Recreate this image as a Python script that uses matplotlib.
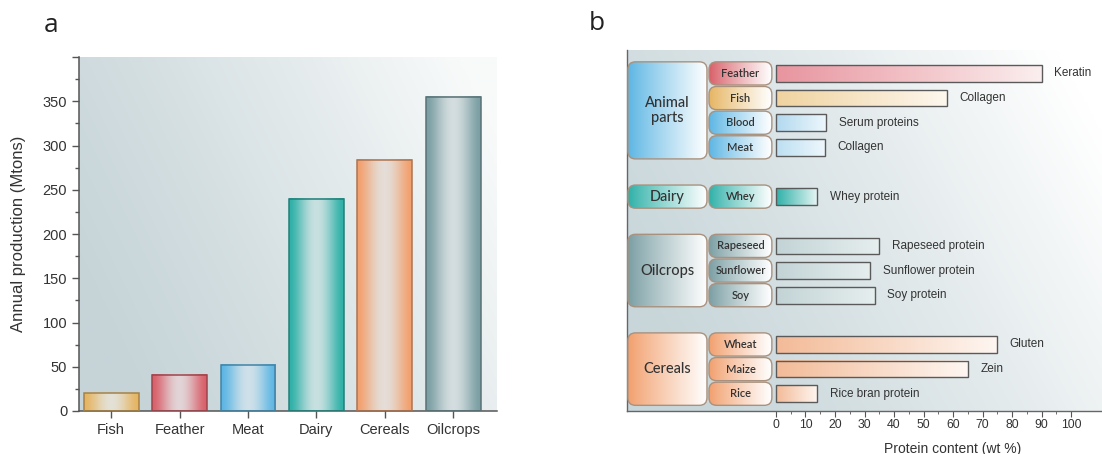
import numpy as np
import matplotlib
matplotlib.use("Agg")
import matplotlib.pyplot as plt
from matplotlib.patches import FancyBboxPatch
from matplotlib.colors import to_rgb

# ---------------- data ----------------
categories_a = ['Fish', 'Feather', 'Meat', 'Dairy', 'Cereals', 'Oilcrops']
production = [20, 41, 52, 240, 284, 355]

groups_b = ['Animal\nparts', 'Dairy', 'Oilcrops', 'Cereals']
sources = ['Feather', 'Fish', 'Blood', 'Meat', 'Whey', 'Rapeseed', 'Sunflower',
           'Soy', 'Wheat', 'Maize', 'Rice']
source_group = [0, 0, 0, 0, 1, 2, 2, 2, 3, 3, 3]
protein_content = [90, 58, 17, 16.5, 14, 35, 32, 33.5, 75, 65, 14]
protein_names = ['Keratin', 'Collagen', 'Serum proteins', 'Collagen', 'Whey protein',
                 'Rapeseed protein', 'Sunflower protein', 'Soy protein', 'Gluten',
                 'Zein', 'Rice bran protein']

# ---------------- styles ----------------
col_a = ['#e6b562', '#d9606a', '#5db6e4', '#2fb1a8', '#f2a06e', '#7b9fa4']
group_colors = ['#5db6e4', '#2fb1a8', '#7b9fa4', '#f2a06e']
sub_colors = ['#d9606a', '#e6b562', '#5db6e4', '#5db6e4', '#2fb1a8',
              '#7b9fa4', '#7b9fa4', '#7b9fa4', '#f2a06e', '#f2a06e', '#f2a06e']
bar_b_start = ['#e8959f', '#f0d3a0', '#b2d9ef', '#bcdff2', '#2fb1a8',
               '#c3d4d6', '#c3d4d6', '#c3d4d6', '#f3bb98', '#f3bb98', '#f3bb98']
bar_b_end = ['#fbeeee', '#fdf7ee', '#eef7fc', '#eef7fc', '#e8f6f5',
             '#e6eeee', '#e6eeee', '#e6eeee', '#fef6f1', '#fef6f1', '#fef6f1']
box_edge = '#a8927f'
text_col = '#333333'

plt.rcParams['font.family'] = ['Liberation Sans', 'DejaVu Sans']

fig = plt.figure(figsize=(11.02, 4.54), dpi=100)


def lerp(c1, c2, t):
    c1 = np.array(to_rgb(c1)); c2 = np.array(to_rgb(c2))
    t = np.asarray(t)[..., None]
    return c1 * (1 - t) + c2 * t


def background(ax, dark, light):
    nx, ny = 200, 100
    x = np.linspace(0, 1, nx)[None, :]
    y = np.linspace(1, 0, ny)[:, None]
    t = np.clip(0.85 * x + 0.35 * y - 0.12, 0, 1) ** 1.2
    img = lerp(dark, light, t)
    ax.imshow(img, extent=(0, 1, 0, 1), transform=ax.transAxes, aspect='auto',
              zorder=0, interpolation='bilinear')


def hgrad(ax, x0, x1, y0, y1, colors, clip=None, zorder=2):
    img = np.array([colors, colors])
    im = ax.imshow(img, extent=(x0, x1, y0, y1), aspect='auto', zorder=zorder,
                   interpolation='bicubic', origin='lower')
    if clip is not None:
        im.set_clip_path(clip)
    return im


def darker(c, f=0.7):
    return tuple(np.array(to_rgb(c)) * f)


# ---------------- panel a ----------------
axa = fig.add_axes([79 / 1102, 43 / 454, (497 - 79) / 1102, (411 - 57) / 454])
background(axa, '#c6d4d8', '#f8fafa')
xa = np.arange(len(categories_a))
w = 0.8
bars = axa.bar(xa, production, width=w, facecolor='none', zorder=3, linewidth=1.1)
n = 64
s = np.linspace(0, 1, n)
prof = (1 - np.cos(2 * np.pi * s)) / 2
prof = prof ** 0.8 * 0.85
for b, c in zip(bars, col_a):
    b.set_edgecolor(darker(c, 0.72))
    cols = lerp(c, '#e3e8ea', prof)
    hgrad(axa, b.get_x(), b.get_x() + b.get_width(), 0, b.get_height(), cols, zorder=2)

axa.set_xlim(-0.47, 5.64)
axa.set_ylim(0, 400)
axa.set_xticks(xa)
axa.set_xticklabels(categories_a, fontsize=10.5, color=text_col)
axa.set_yticks(np.arange(0, 401, 50))
axa.set_yticklabels([str(v) if v < 400 else '' for v in range(0, 401, 50)],
                    fontsize=10.5, color=text_col)
axa.set_yticks(np.arange(25, 400, 50), minor=True)
axa.tick_params(axis='both', which='major', direction='out', length=5, color='#555555', width=1)
axa.tick_params(axis='y', which='minor', direction='out', length=3, color='#555555', width=1)
axa.set_ylabel('Annual production (Mtons)', fontsize=12, color=text_col, labelpad=12)
for sp in ['top', 'right']:
    axa.spines[sp].set_visible(False)
for sp in ['left', 'bottom']:
    axa.spines[sp].set_color('#555555')
    axa.spines[sp].set_linewidth(1.1)

fig.text(51 / 1102, 1 - 25 / 454, 'a', fontsize=19, ha='center', va='center',
         family=['Open Sans', 'DejaVu Sans'], color='#222222')
fig.text(597 / 1102, 1 - 23 / 454, 'b', fontsize=19, ha='center', va='center',
         family=['Open Sans', 'DejaVu Sans'], color='#222222')

# ---------------- panel b ----------------
axb = fig.add_axes([627 / 1102, 43 / 454, (1102 - 627) / 1102, (411 - 50) / 454])
background(axb, '#c8d6da', '#ffffff')
ypos = np.arange(len(sources)) + np.array(source_group) * 1.0
xl = (-50.5, 110.5)
yl = (13.7, -0.95)
px_per_x = 475 / (xl[1] - xl[0])
px_per_y = 361 / (yl[0] - yl[1])
masp = px_per_x / px_per_y

bh = 0.68
for i, (y, v) in enumerate(zip(ypos, protein_content)):
    cols = lerp(bar_b_start[i], bar_b_end[i], np.linspace(0, 1, 64))
    hgrad(axb, 0, v, y - bh / 2, y + bh / 2, cols, zorder=2)
    axb.barh(y, v, height=bh, left=0, facecolor='none', edgecolor='#5a5a5a',
             linewidth=1.0, zorder=3)
    axb.annotate(protein_names[i], (v, y), xytext=(9, 0), textcoords='offset points',
                 va='center', ha='left', fontsize=8.5, color=text_col, zorder=4)


def rbox(ax, x0, x1, y0, y1, color, text, fs, weight):
    p = FancyBboxPatch((x0, y0), x1 - x0, y1 - y0,
                       boxstyle='round,pad=0,rounding_size=2.6',
                       mutation_aspect=masp, facecolor='none', edgecolor=box_edge,
                       linewidth=1.0, zorder=4)
    ax.add_patch(p)
    cols = lerp(color, '#ffffff', np.linspace(0, 1, 64) ** 0.9)
    hgrad(ax, x0, x1, y0, y1, cols, clip=p, zorder=3)
    ax.text((x0 + x1) / 2, (y0 + y1) / 2, text, ha='center', va='center',
            fontsize=fs, fontweight=weight, color=text_col, zorder=5,
            family=['Lato', 'DejaVu Sans'], linespacing=1.1)


gap = 0.03
sx0, sx1 = -22.7, -1.4
cx0, cx1 = -50.2, -23.4
for i, y in enumerate(ypos):
    rbox(axb, sx0, sx1, y - 0.5 + gap, y + 0.5 - gap, sub_colors[i], sources[i], 8, 'semibold')
for g, name in enumerate(groups_b):
    ys = [y for y, sg in zip(ypos, source_group) if sg == g]
    rbox(axb, cx0, cx1, min(ys) - 0.5 + gap, max(ys) + 0.5 - gap, group_colors[g], name,
         10.5, 'medium')

axb.set_xlim(*xl)
axb.set_ylim(*yl)
axb.set_xticks(np.arange(0, 101, 10))
axb.set_xticklabels([str(v) for v in range(0, 101, 10)], fontsize=8.8, color=text_col)
axb.set_xticks(np.arange(5, 100, 10), minor=True)
axb.tick_params(axis='x', which='major', direction='out', length=4, color='#555555', pad=2)
axb.tick_params(axis='x', which='minor', direction='out', length=2, color='#555555')
axb.set_yticks([])
axb.set_xlabel('Protein content (wt %)', fontsize=10, color=text_col)
axb.xaxis.set_label_coords(0.686, -0.085)
for sp in ['top', 'right']:
    axb.spines[sp].set_visible(False)
for sp in ['left', 'bottom']:
    axb.spines[sp].set_color('#666666')
    axb.spines[sp].set_linewidth(1.0)

fig.savefig('out.png', dpi=100)
